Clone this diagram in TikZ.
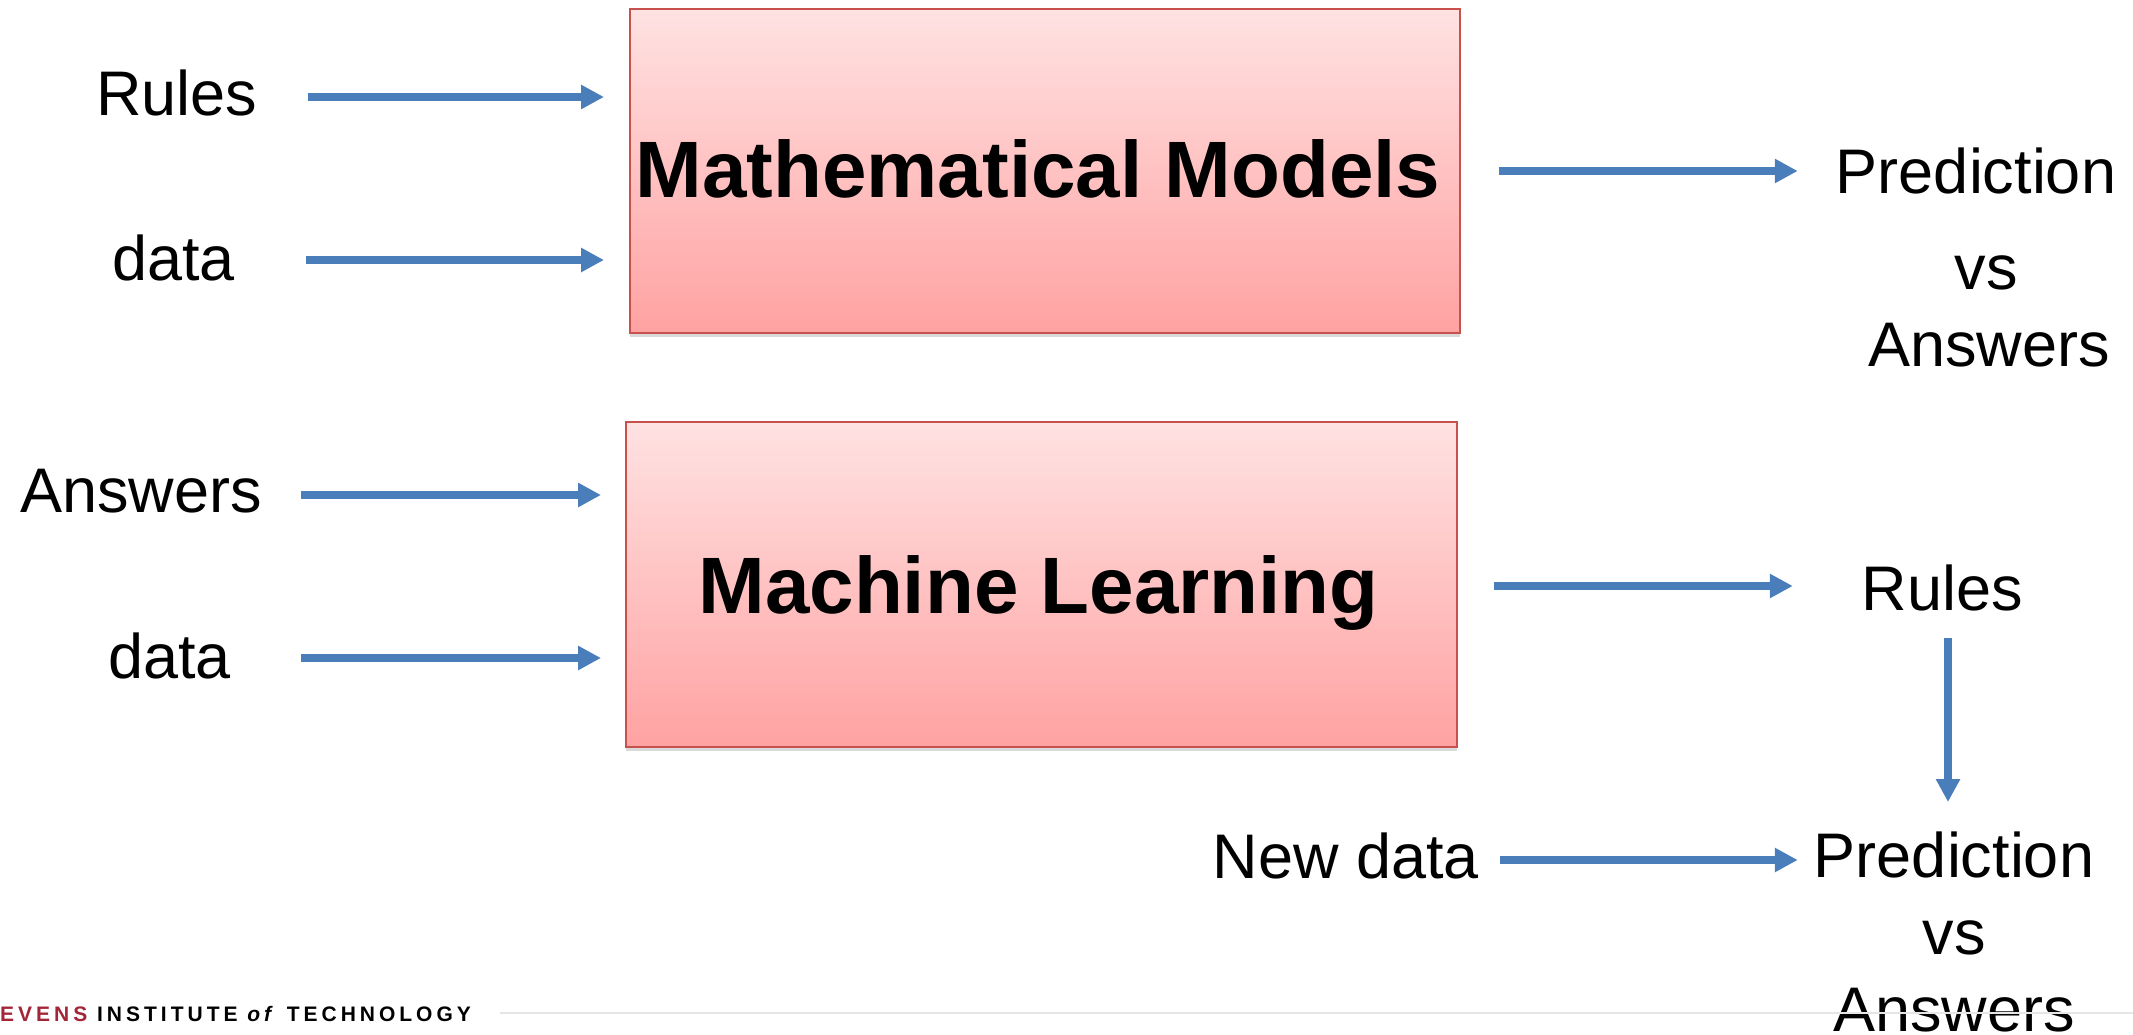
\documentclass[tikz,border=0pt]{standalone}
\usepackage{fontspec}
\setmainfont{Liberation Sans}
\newfontfamily\footfont[LetterSpace=19]{Liberation Sans}
\usetikzlibrary{arrows.meta,calc,shadows}
\definecolor{arrblue}{HTML}{4A7EBB}
\definecolor{boxtop}{HTML}{FFE2E2}
\definecolor{boxbot}{HTML}{FFA2A2}
\definecolor{boxline}{HTML}{C8504D}
\definecolor{stevred}{HTML}{A32638}
\definecolor{footgray}{HTML}{E6E6E6}
\begin{document}
\begin{tikzpicture}[x=1pt,y=-1pt,
  lbl/.style={inner sep=0pt, font=\fontsize{63}{77}\selectfont},
  ttl/.style={draw=boxline, line width=2pt, top color=boxtop, bottom color=boxbot,
    inner sep=0pt, text depth=0pt, font=\fontsize{80}{96}\selectfont\bfseries,
    drop shadow={shadow xshift=0pt, shadow yshift=-4pt, opacity=0.3}},
  arr/.style={draw=arrblue, line width=8pt, -{Triangle[length=23pt,width=23pt]}},
]
\useasboundingbox (0,0) rectangle (2133,1035);

% boxes
\node[ttl, text height=52pt, minimum width=830pt, minimum height=323pt] (mm) at (1045,171) {\hspace*{-14pt}Mathematical Models};
\node[ttl, minimum width=831pt, minimum height=325pt] (ml) at (1041.5,584.5) {\hspace*{-6pt}Machine Learning};

% labels
\node[lbl] (rulesA) at (177,93) {Rules};
\node[lbl] (dataA) at (173.5,258) {data};
\node[lbl] (ansL) at (141,491) {Answers};
\node[lbl] (dataB) at (169.5,656) {data};
\node[lbl] (rulesB) at (1942.5,588) {Rules};
\node[lbl] (newd) at (1346,856) {New data};
\node[lbl, align=center, anchor=north] (predA) at (1976,148) {Prediction\\[19pt]\hspace*{20pt}vs\\\hspace*{26pt}Answers};
\node[lbl, align=center, anchor=north] (predB) at (1954,832) {Prediction\\vs\\Answers};

% arrows
\draw[arr] ($(rulesA.east)+(50,4)$) -- ($(rulesA.east -| mm.west)+(-25,4)$);
\draw[arr] ($(dataA.east)+(71,2)$) -- ($(dataA.east -| mm.west)+(-25,2)$);
\draw[arr] ($(ansL.east)+(39,4)$) -- ($(ansL.east -| ml.west)+(-24,4)$);
\draw[arr] ($(dataB.east)+(70,2)$) -- ($(dataB.east -| ml.west)+(-24,2)$);
\draw[arr] ($(mm.east)+(38,0)$) -- ($(mm.east -| predA.west)+(-38,0)$);
\draw[arr] ($(ml.east)+(36,1.5)$) -- ($(rulesB.west |- ml.east)+(-69,1.5)$);
\draw[arr] ($(newd.east)+(21,4)$) -- ($(newd.east -| predB.west)+(-16,4)$);
\draw[arr] ($(rulesB.south)+(5.5,27)$) -- ($(rulesB.south |- predB.north)+(5.5,-30)$);

% footer
\draw[footgray, line width=2pt] (500,1013) -- (2133,1013);
\node[anchor=base west, inner sep=0pt, font=\footfont\bfseries\fontsize{21}{25}\selectfont] (foot) at (0,1021)
  {\textcolor{stevred}{EVENS} INSTITUTE \textit{of} TECHNOLOGY};
\end{tikzpicture}
\end{document}
